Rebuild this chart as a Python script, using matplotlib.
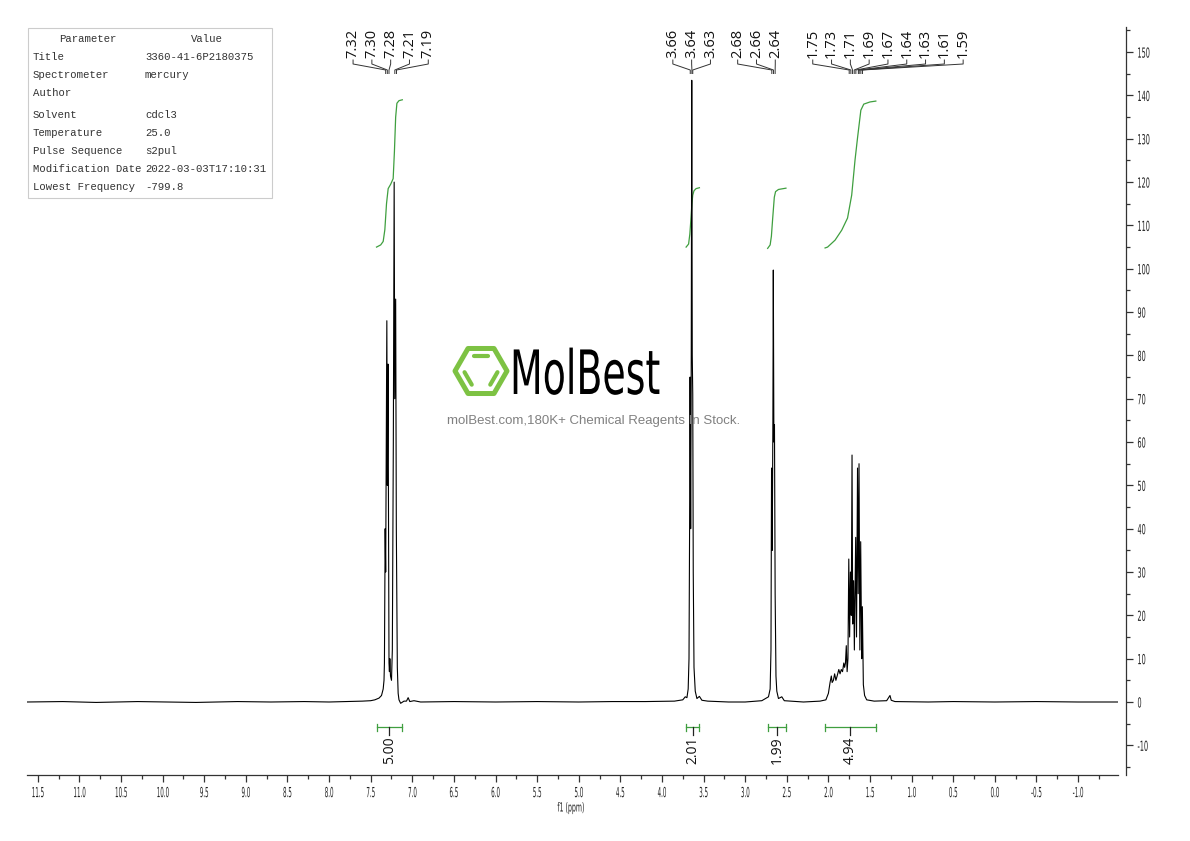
import numpy as np
import matplotlib
matplotlib.use("Agg")
import matplotlib.pyplot as plt
from matplotlib.patches import Polygon, Rectangle
from matplotlib.patheffects import AbstractPathEffect
from matplotlib.transforms import Affine2D, blended_transform_factory
from matplotlib.ticker import MultipleLocator, FuncFormatter

plt.rcParams['axes.unicode_minus'] = False

# ---------------- data ----------------
spec_ppm = [11.63, 11.2, 10.8, 10.3, 9.6, 9.1, 8.7, 8.3, 8.0, 7.8, 7.6, 7.50, 7.45, 7.40, 7.37,
            7.35, 7.34, 7.335, 7.326, 7.320, 7.313, 7.306, 7.300, 7.292, 7.286, 7.280,
            7.275, 7.270, 7.262, 7.250, 7.240, 7.228, 7.218, 7.211, 7.200, 7.192, 7.180,
            7.170, 7.160, 7.14, 7.10, 7.07, 7.05, 7.03, 6.98, 6.9, 6.5, 6.0, 5.5, 5.0, 4.6,
            4.2, 3.85, 3.75, 3.72, 3.70, 3.685, 3.675, 3.668, 3.662, 3.655, 3.648, 3.642,
            3.636, 3.630, 3.624, 3.615, 3.60, 3.58, 3.55, 3.52, 3.45, 3.2, 3.0, 2.80, 2.72,
            2.70, 2.69, 2.683, 2.675, 2.667, 2.662, 2.655, 2.648, 2.640, 2.630, 2.62, 2.60,
            2.56, 2.53, 2.3, 2.10, 2.03, 2.00, 1.98, 1.965, 1.955, 1.94, 1.925, 1.91, 1.895,
            1.875, 1.86, 1.845, 1.83, 1.815, 1.805, 1.795, 1.785, 1.775, 1.765, 1.755, 1.745,
            1.735, 1.725, 1.716, 1.708, 1.697, 1.688, 1.672, 1.662, 1.650, 1.642, 1.632,
            1.622, 1.612, 1.600, 1.592, 1.580, 1.565, 1.54, 1.45, 1.30, 1.26, 1.245, 1.20,
            0.8, 0.5, 0.0, -0.5, -1.0, -1.48]
spec_int = [0.0, 0.1, -0.1, 0.1, -0.1, 0.1, 0.0, 0.1, 0.0, 0.1, 0.2, 0.3, 0.5, 0.9, 1.5,
            3.0, 5.0, 9.0, 40.0, 30.0, 60.0, 88.0, 50.0, 78.0, 40.0, 9.0,
            7.0, 10.0, 6.0, 5.0, 12.0, 60.0, 120.0, 70.0, 93.0, 40.0, 8.0,
            2.0, 0.5, -0.3, 0.2, 0.2, 1.0, 0.1, 0.3, 0.0, 0.1, 0.0, 0.1, 0.0, 0.1,
            0.1, 0.2, 0.5, 1.2, 1.0, 3.0, 10.0, 40.0, 75.0, 40.0, 80.0, 143.5,
            80.0, 71.0, 30.0, 8.0, 2.5, 0.8, 1.3, 0.4, 0.2, 0.0, 0.0, 0.3, 1.2,
            3.0, 12.0, 54.0, 35.0, 65.0, 99.7, 60.0, 64.0, 25.0, 6.0, 2.5, 0.8,
            1.2, 0.3, 0.0, 0.2, 0.5, 2.0, 4.5, 6.0, 4.5, 5.0, 6.5, 5.0, 6.0,
            7.5, 6.5, 7.5, 7.0, 9.0, 8.0, 9.0, 13.0, 7.0, 10.0, 33.0, 15.0,
            30.0, 20.0, 57.0, 18.0, 28.0, 12.0, 38.0, 15.0, 54.0, 25.0, 55.0,
            12.0, 37.0, 10.0, 22.0, 4.0, 1.5, 0.5, 0.2, 0.3, 1.5, 0.4, 0.1,
            0.0, 0.1, 0.0, 0.1, 0.0, 0.0]

peak_group_arom = [7.32, 7.30, 7.28, 7.21, 7.19]
peak_group_ch2o = [3.66, 3.64, 3.63]
peak_group_ch2ar = [2.68, 2.66, 2.64]
peak_group_ch2 = [1.75, 1.73, 1.71, 1.69, 1.67, 1.64, 1.63, 1.61, 1.59]

integral_from = [7.43, 3.71, 2.73, 2.04]
integral_to = [7.12, 3.55, 2.51, 1.43]
integral_values = [5.00, 2.01, 1.99, 4.94]

int_arom_ppm = [7.43, 7.38, 7.35, 7.33, 7.31, 7.29, 7.26, 7.23, 7.215, 7.20, 7.185, 7.16, 7.12]
int_arom_val = [105, 105.5, 106.3, 109, 115, 118.5, 119.5, 120.8, 127, 135, 138.2, 138.8, 139]
int_ch2o_ppm = [3.71, 3.68, 3.665, 3.65, 3.64, 3.63, 3.615, 3.59, 3.55]
int_ch2o_val = [105, 105.7, 108, 112, 115, 117, 118, 118.5, 118.7]
int_ch2ar_ppm = [2.73, 2.70, 2.685, 2.67, 2.66, 2.65, 2.635, 2.60, 2.51]
int_ch2ar_val = [104.7, 105.5, 107.5, 111.5, 114, 116.5, 117.8, 118.3, 118.6]
int_ch2_ppm = [2.04, 2.01, 1.92, 1.84, 1.77, 1.72, 1.68, 1.65, 1.61, 1.575, 1.50, 1.43]
int_ch2_val = [104.8, 105.0, 106.6, 108.9, 111.7, 117, 125.1, 130.2, 136.6, 138, 138.5, 138.7]

param_names = ["Title", "Spectrometer", "Author", "Solvent", "Temperature",
               "Pulse Sequence", "Modification Date", "Lowest Frequency"]
param_values = ["3360-41-6P2180375", "mercury", "", "cdcl3", "25.0",
                "s2pul", "2022-03-03T17:10:31", "-799.8"]

x_label = "f1 (ppm)"
watermark_sub = "molBest.com,180K+ Chemical Reagents In Stock."

# ---------------- styling helpers ----------------
W, H = 1190, 841
GREEN = '#3f9f3f'
LOGO_GREEN = '#7dc243'


class HScale(AbstractPathEffect):
    """Horizontally compress text to imitate a condensed font."""
    def __init__(self, sx=0.5, pivot='center'):
        super().__init__()
        self.sx = sx
        self.pivot = pivot

    def draw_path(self, renderer, gc, tpath, affine, rgbFace=None):
        ext = tpath.get_extents()
        if self.pivot == 'left':
            px = 0.0
        elif self.pivot == 'right':
            px = ext.x1
        else:
            px = 0.5 * (ext.x0 + ext.x1)
        pre = Affine2D().translate(-px, 0).scale(self.sx, 1).translate(px, 0)
        renderer.draw_path(gc, tpath, pre + affine, rgbFace)


def fx(px):
    return px / W


def fy(py):
    return 1 - py / H


fig = plt.figure(figsize=(W / 100, H / 100), dpi=100)
fig.patch.set_facecolor('white')

AX_L, AX_R, AX_T, AX_B = 27, 1118, 27, 775
ax = fig.add_axes([fx(AX_L), fy(AX_B), (AX_R - AX_L) / W, (AX_B - AX_T) / H])
ax.set_facecolor('none')
XMAX, XMIN = 11.63, -1.48
ax.set_xlim(XMAX, XMIN)
ax.set_ylim(-16.85, 155.8)
px_per_ppm = (AX_R - AX_L) / (XMAX - XMIN)

for s in ['left', 'top']:
    ax.spines[s].set_visible(False)
ax.spines['right'].set_position(('outward', 6))
for s in ['right', 'bottom']:
    ax.spines[s].set_color('#333333')
    ax.spines[s].set_linewidth(0.9)

ax.xaxis.set_major_locator(MultipleLocator(0.5))
ax.xaxis.set_minor_locator(MultipleLocator(0.25))
ax.yaxis.set_major_locator(MultipleLocator(10))
ax.yaxis.set_minor_locator(MultipleLocator(5))
ax.yaxis.tick_right()
ax.xaxis.set_major_formatter(FuncFormatter(lambda v, p: f"{v:.1f}" if v <= 11.51 else ""))
ax.yaxis.set_major_formatter(FuncFormatter(lambda v, p: f"{v:.0f}"))
ax.tick_params(axis='x', which='major', direction='out', length=5, width=0.9,
               colors='#333333', labelsize=10, pad=3, labelcolor='#222222')
ax.tick_params(axis='x', which='minor', direction='out', length=3, width=0.9, colors='#333333')
ax.tick_params(axis='y', which='major', direction='out', length=5, width=0.9,
               colors='#333333', labelsize=10, pad=3, labelcolor='#222222')
ax.tick_params(axis='y', which='minor', direction='out', length=3, width=0.9, colors='#333333')

# spectrum
ax.plot(spec_ppm, spec_int, color='black', lw=0.8, zorder=3)

# integral curves
for xs, ys in [(int_arom_ppm, int_arom_val), (int_ch2o_ppm, int_ch2o_val),
               (int_ch2ar_ppm, int_ch2ar_val), (int_ch2_ppm, int_ch2_val)]:
    ax.plot(xs, ys, color=GREEN, lw=0.9, zorder=2)

# integration bars
bar_y, cap_h, tick_y = -5.8, 0.8, -7.6
for a, b, v in zip(integral_from, integral_to, integral_values):
    mid = 0.5 * (a + b)
    ax.plot([a, b], [bar_y, bar_y], color=GREEN, lw=0.9, zorder=2)
    ax.plot([a, a], [bar_y - cap_h, bar_y + cap_h], color=GREEN, lw=0.9)
    ax.plot([b, b], [bar_y - cap_h, bar_y + cap_h], color=GREEN, lw=0.9)
    ax.plot([mid, mid], [bar_y, tick_y], color='#222222', lw=0.9)
    ax.text(mid, tick_y - 0.4, f"{v:.2f}", rotation=90, ha='center', va='top',
            fontsize=10, family=['Open Sans', 'DejaVu Sans'], color='#111111')

# peak labels with leaders
blend = blended_transform_factory(ax.transData, ax.transAxes)


def yfrac(py):
    return (AX_B - py) / (AX_B - AX_T)


label_spacing_px = 18.8
label_shift_px = [0, 0, -17, 32]
groups = [peak_group_arom, peak_group_ch2o, peak_group_ch2ar, peak_group_ch2]
for grp, shift in zip(groups, label_shift_px):
    n = len(grp)
    center = np.mean(grp) - shift / px_per_ppm
    for i, p in enumerate(grp):
        lp = center + ((n - 1) / 2 - i) * label_spacing_px / px_per_ppm
        ax.text(lp, yfrac(58.0), f"{p:.2f}", transform=blend, rotation=90, ha='center',
                va='bottom', fontsize=10.5, family=['Open Sans', 'DejaVu Sans'],
                color='#111111')
        ax.plot([lp, lp, p, p], [yfrac(60), yfrac(64), yfrac(70), yfrac(73.5)],
                transform=blend, color='#333333', lw=0.7, clip_on=False)

# x label
fig.text(fx(571), fy(808), x_label, ha='center', va='center', fontsize=9,
         color='#222222', path_effects=[HScale(0.5, 'center')])

# parameter table
fig.patches.append(Rectangle((fx(28), fy(198)), fx(272) - fx(28), fy(28) - fy(198),
                             transform=fig.transFigure, facecolor='white',
                             edgecolor='#cccccc', lw=0.8, zorder=1))
mono = ['Liberation Mono', 'DejaVu Sans Mono']
fig.text(fx(88), fy(39), "Parameter", ha='center', va='center', fontsize=7.7,
         family=mono, color='#333333')
fig.text(fx(207), fy(39), "Value", ha='center', va='center', fontsize=7.7,
         family=mono, color='#333333')
row_y = [57, 75, 93, 115, 133, 151, 169, 187]
for name, val, y in zip(param_names, param_values, row_y):
    fig.text(fx(33), fy(y), name, ha='left', va='center', fontsize=7.7, family=mono,
             color='#333333')
    fig.text(fx(145), fy(y), val, ha='left', va='center', fontsize=7.7, family=mono,
             color='#333333')

# watermark logo
cx, cy, R = 481, 371, 26
ang = np.deg2rad(np.arange(6) * 60)
hx = cx + R * np.cos(ang)
hy = cy - R * np.sin(ang)
hexv = [(fx(a), fy(b)) for a, b in zip(hx, hy)]
fig.patches.append(Polygon(hexv, closed=True, fill=False, edgecolor=LOGO_GREEN, lw=3.6,
                           joinstyle='round', transform=fig.transFigure, zorder=0))
r = 0.66 * R
ix = cx + r * np.cos(ang)
iy = cy - r * np.sin(ang)
for k0, k1 in [(1, 2), (3, 4), (5, 0)]:
    x0, y0, x1, y1 = ix[k0], iy[k0], ix[k1], iy[k1]
    t = 0.08
    sx0, sy0 = x0 + t * (x1 - x0), y0 + t * (y1 - y0)
    sx1, sy1 = x1 - t * (x1 - x0), y1 - t * (y1 - y0)
    fig.lines.append(plt.Line2D([fx(sx0), fx(sx1)], [fy(sy0), fy(sy1)], color=LOGO_GREEN,
                                lw=3.0, solid_capstyle='round', transform=fig.transFigure,
                                zorder=0))
fig.text(fx(510), fy(394), "MolBest", ha='left', va='baseline', fontsize=44,
         color='black', path_effects=[HScale(0.62, 'left')], zorder=0)
fig.text(fx(594), fy(421), watermark_sub, ha='center', va='center', fontsize=9.5,
         family=['Liberation Sans', 'DejaVu Sans'], color='#808080', zorder=0)

# condensed tick labels
fig.canvas.draw()
for lbl in ax.get_xticklabels():
    lbl.set_path_effects([HScale(0.4, 'center')])
for lbl in ax.get_yticklabels():
    lbl.set_path_effects([HScale(0.47, 'left')])

fig.savefig("out.png", dpi=100, facecolor='white')
